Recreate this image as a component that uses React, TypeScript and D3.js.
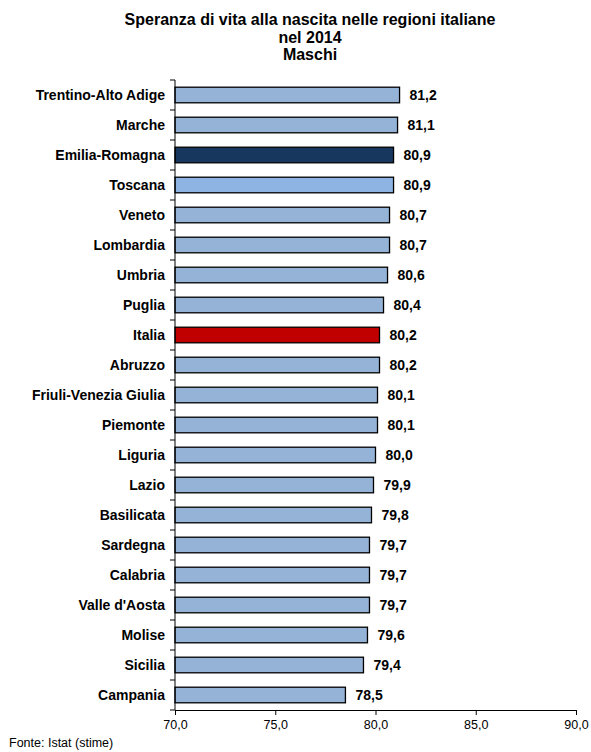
import * as d3 from 'd3';
import { useEffect, useRef } from 'react';

const regions = [
    "Trentino-Alto Adige", "Marche", "Emilia-Romagna", "Toscana", "Veneto", "Lombardia",
    "Umbria", "Puglia", "Italia", "Abruzzo", "Friuli-Venezia Giulia", "Piemonte", "Liguria",
    "Lazio", "Basilicata", "Sardegna", "Calabria", "Valle d'Aosta", "Molise", "Sicilia", "Campania"
];
const values = [
    81.2, 81.1, 80.9, 80.9, 80.7, 80.7, 80.6, 80.4, 80.2, 80.2, 80.1,
    80.1, 80.0, 79.9, 79.8, 79.7, 79.7, 79.7, 79.6, 79.4, 78.5
];
const xTicks = [70, 75, 80, 85, 90];
const titleLines = ["Speranza di vita alla nascita nelle regioni italiane", "nel 2014", "Maschi"];
const source = "Fonte: Istat (stime)";

const colorFor = (name: string) => {
    if (name === "Italia") return "#c00000";
    if (name === "Emilia-Romagna") return "#17375e";
    if (name === "Toscana") return "#8db4e2";
    return "#95b3d7";
};

const fmt = (v: number) => v.toFixed(1).replace(".", ",");

export default function App() {
    const ref = useRef<SVGSVGElement | null>(null);

    useEffect(() => {
        if (!ref.current) return;
        const width = 591, height = 752;
        const margin = { top: 80, left: 175, right: 15, bottom: 42 };
        const font = "Arial, 'Liberation Sans', sans-serif";

        const svg = d3.select(ref.current);
        svg.selectAll("*").remove();
        svg.attr("width", width).attr("height", height);

        // title
        svg.append("g")
            .selectAll("text")
            .data(titleLines)
            .join("text")
            .attr("x", 310)
            .attr("y", (_, i) => 25 + i * 17.5)
            .attr("text-anchor", "middle")
            .style("font-family", font)
            .style("font-size", "16px")
            .style("font-weight", "bold")
            .text(d => d);

        const x = d3.scaleLinear().domain([70, 90]).range([margin.left, width - margin.right]);
        const y = d3.scaleBand<string>().domain(regions).range([margin.top, height - margin.bottom]).paddingInner(0.48).paddingOuter(0.24);

        const data = regions.map((r, i) => ({ region: r, value: values[i] }));

        svg.append("g")
            .selectAll("rect")
            .data(data)
            .join("rect")
            .attr("x", x(70))
            .attr("y", d => y(d.region)!)
            .attr("width", d => x(d.value) - x(70))
            .attr("height", y.bandwidth())
            .attr("fill", d => colorFor(d.region))
            .attr("stroke", "#000")
            .attr("stroke-width", 1.3);

        // value labels
        svg.append("g")
            .selectAll("text")
            .data(data)
            .join("text")
            .attr("x", d => x(d.value) + 10)
            .attr("y", d => y(d.region)! + y.bandwidth() / 2)
            .attr("dy", "0.36em")
            .style("font-family", font)
            .style("font-size", "14px")
            .style("font-weight", "bold")
            .text(d => fmt(d.value));

        // category axis
        const yAxis = svg.append("g")
            .attr("transform", `translate(${margin.left},0)`);
        yAxis.append("line")
            .attr("y1", margin.top).attr("y2", height - margin.bottom)
            .attr("stroke", "#000");
        const step = y.step();
        yAxis.selectAll("line.tick")
            .data(d3.range(regions.length + 1))
            .join("line")
            .attr("class", "tick")
            .attr("x1", -5).attr("x2", 0)
            .attr("y1", i => margin.top + i * step)
            .attr("y2", i => margin.top + i * step)
            .attr("stroke", "#000");
        yAxis.selectAll("text")
            .data(regions)
            .join("text")
            .attr("x", -10)
            .attr("y", d => y(d)! + y.bandwidth() / 2)
            .attr("dy", "0.36em")
            .attr("text-anchor", "end")
            .style("font-family", font)
            .style("font-size", "14px")
            .style("font-weight", "bold")
            .text(d => d);

        // value axis
        const xAxis = svg.append("g")
            .attr("transform", `translate(0,${height - margin.bottom})`)
            .call(d3.axisBottom(x).tickValues(xTicks).tickSize(5).tickFormat(d => fmt(+d)));
        xAxis.select(".domain").attr("stroke", "#000");
        xAxis.selectAll(".tick line").attr("stroke", "#000");
        xAxis.selectAll(".tick text")
            .attr("y", 10)
            .style("font-family", font)
            .style("font-size", "12.5px")
            .attr("fill", "#000");

        svg.append("text")
            .attr("x", 9)
            .attr("y", 747)
            .style("font-family", font)
            .style("font-size", "12.5px")
            .text(source);
    }, []);

    return <svg ref={ref} style={{ position: "absolute", left: 0, top: 0 }} />;
}
